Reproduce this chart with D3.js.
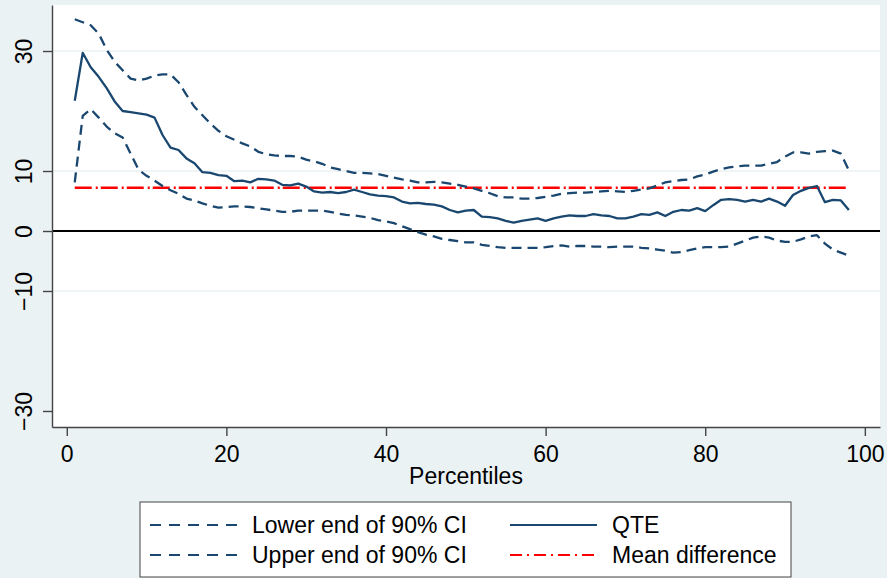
<!DOCTYPE html>
<html>
<head>
<meta charset="utf-8">
<script src="https://cdn.jsdelivr.net/npm/d3@7"></script>
<style>
  body { margin: 0; background: #eaf2f3; }
  svg text { font-family: "Liberation Sans", Arial, sans-serif; fill: #000; }
</style>
</head>
<body>
<div id="chart"></div>
<script>
//---->DATA<-----//
const percentiles = [1, 2, 3, 4, 5, 6, 7, 8, 9, 10, 11, 12, 13, 14, 15, 16, 17, 18, 19, 20,
    21, 22, 23, 24, 25, 26, 27, 28, 29, 30, 31, 32, 33, 34, 35, 36, 37, 38, 39, 40,
    41, 42, 43, 44, 45, 46, 47, 48, 49, 50, 51, 52, 53, 54, 55, 56, 57, 58, 59, 60,
    61, 62, 63, 64, 65, 66, 67, 68, 69, 70, 71, 72, 73, 74, 75, 76, 77, 78, 79, 80,
    81, 82, 83, 84, 85, 86, 87, 88, 89, 90, 91, 92, 93, 94, 95, 96, 97, 98];

const qte = [21.7, 29.7, 27.3, 25.7, 23.8, 21.6, 20.0, 19.8, 19.6, 19.4,
    18.9, 16.0, 13.9, 13.5, 12.1, 11.3, 9.8, 9.7, 9.3, 9.2,
    8.3, 8.4, 8.1, 8.7, 8.6, 8.4, 7.7, 7.6, 7.9, 7.4,
    6.6, 6.4, 6.5, 6.3, 6.5, 6.9, 6.5, 6.1, 5.9, 5.8,
    5.6, 4.9, 4.6, 4.7, 4.5, 4.4, 4.1, 3.5, 3.1, 3.4,
    3.5, 2.4, 2.3, 2.1, 1.7, 1.4, 1.7, 1.9, 2.1, 1.7,
    2.1, 2.4, 2.6, 2.5, 2.5, 2.8, 2.6, 2.5, 2.1, 2.1,
    2.4, 2.8, 2.7, 3.1, 2.5, 3.2, 3.5, 3.4, 3.8, 3.3,
    4.3, 5.2, 5.3, 5.2, 4.9, 5.2, 4.9, 5.4, 4.9, 4.2,
    6.0, 6.7, 7.2, 7.5, 4.8, 5.2, 5.1, 3.5];

const lowerCI = [8.1, 19.2, 20.3, 18.9, 17.4, 16.3, 15.6, 12.9, 10.2, 9.2,
    8.4, 7.5, 6.8, 6.2, 5.4, 5.1, 4.6, 4.2, 3.9, 4.0,
    4.1, 4.1, 4.0, 3.8, 3.6, 3.4, 3.2, 3.2, 3.4, 3.4,
    3.4, 3.4, 3.2, 2.9, 2.7, 2.6, 2.4, 2.2, 1.8, 1.6,
    1.3, 0.8, 0.3, -0.2, -0.6, -0.9, -1.3, -1.5, -1.7, -1.9,
    -1.9, -2.3, -2.5, -2.7, -2.8, -2.8, -2.8, -2.8, -2.8, -2.7,
    -2.5, -2.4, -2.6, -2.5, -2.5, -2.6, -2.6, -2.7, -2.6, -2.6,
    -2.6, -2.8, -2.9, -3.1, -3.3, -3.6, -3.5, -3.2, -2.9, -2.7,
    -2.7, -2.7, -2.6, -2.1, -1.6, -1.1, -0.9, -1.1, -1.6, -1.8,
    -1.8, -1.4, -0.9, -0.7, -2.1, -3.1, -3.6, -4.1];

const upperCI = [35.3, 34.8, 34.3, 32.9, 30.2, 28.2, 26.8, 25.4, 25.1, 25.4,
    25.9, 26.1, 26.1, 24.8, 22.7, 20.7, 19.3, 17.9, 16.7, 15.8,
    15.2, 14.6, 14.1, 13.2, 12.8, 12.6, 12.5, 12.5, 12.4, 11.9,
    11.6, 11.2, 10.6, 10.3, 10.0, 9.7, 9.7, 9.6, 9.5, 9.2,
    8.9, 8.6, 8.4, 8.1, 8.1, 8.2, 8.1, 7.9, 7.7, 7.4,
    7.1, 6.7, 6.3, 5.8, 5.6, 5.6, 5.4, 5.4, 5.5, 5.7,
    5.9, 6.2, 6.3, 6.4, 6.4, 6.5, 6.6, 6.7, 6.6, 6.5,
    6.7, 6.9, 7.1, 7.6, 8.1, 8.3, 8.5, 8.6, 9.1, 9.4,
    9.9, 10.3, 10.6, 10.8, 10.9, 10.9, 10.9, 11.2, 11.5, 12.4,
    13.1, 13.1, 12.9, 13.2, 13.3, 13.4, 12.9, 10.1];

const meanDiff = 7.2;

const xTicks = [0, 20, 40, 60, 80, 100];
const yTicks = [-30, -10, 0, 10, 30];
const yGrid = [-10, 10, 30];
const xTitle = 'Percentiles';

const legendRows = [
    ['Lower end of 90% CI', 'QTE'],
    ['Upper end of 90% CI', 'Mean difference']
];

//---->CHART<-----//
const outerW = 887,
    outerH = 578;

const plot = { left: 52, top: 5, right: 880, bottom: 427 };

const navy = '#1a476f',
    axisColor = '#444',
    gridColor = '#eaf2f3',
    fontSize = 23,
    dashed = '10,6';

const svg = d3.select('#chart').append('svg')
    .attr('width', outerW)
    .attr('height', outerH);

svg.append('rect')
    .attr('width', outerW)
    .attr('height', outerH)
    .style('fill', '#eaf2f3');

svg.append('rect')
    .attr('x', plot.left)
    .attr('y', plot.top)
    .attr('width', plot.right - plot.left)
    .attr('height', plot.bottom - plot.top)
    .style('fill', '#fff');

const x = d3.scaleLinear().domain([-1.85, 101.9]).range([plot.left, plot.right]);
const y = d3.scaleLinear().domain([-32.67, 37.67]).range([plot.bottom, plot.top]);

// Gridlines
svg.append('g').selectAll('line')
    .data(yGrid)
    .enter().append('line')
    .attr('x1', plot.left)
    .attr('x2', plot.right)
    .attr('y1', d => y(d))
    .attr('y2', d => y(d))
    .style('stroke', gridColor)
    .style('stroke-width', 1.6);

// Zero line
svg.append('line')
    .attr('x1', plot.left)
    .attr('x2', plot.right)
    .attr('y1', y(0))
    .attr('y2', y(0))
    .style('stroke', '#000')
    .style('stroke-width', 2.2);

// Mean difference
svg.append('line')
    .attr('x1', x(percentiles[0]))
    .attr('x2', x(percentiles[percentiles.length - 1]))
    .attr('y1', y(meanDiff))
    .attr('y2', y(meanDiff))
    .style('stroke', '#ff0000')
    .style('stroke-width', 2.4)
    .style('stroke-dasharray', '17,4,2,3');

// Series lines
const line = d3.line()
    .x((d, i) => x(percentiles[i]))
    .y(d => y(d));

const series = [
    { values: lowerCI, dash: dashed },
    { values: upperCI, dash: dashed },
    { values: qte, dash: null }
];

svg.append('g').selectAll('path')
    .data(series)
    .enter().append('path')
    .attr('d', d => line(d.values))
    .style('fill', 'none')
    .style('stroke', navy)
    .style('stroke-width', 2.3)
    .style('stroke-linejoin', 'round')
    .style('stroke-dasharray', d => d.dash);

// Add axes
const yAxis = svg.append('g')
    .attr('transform', 'translate(' + plot.left + ',0)')
    .call(d3.axisLeft(y)
        .tickValues(yTicks)
        .tickSize(9)
        .tickSizeOuter(0)
    );

yAxis.selectAll('text')
    .attr('x', null)
    .attr('dy', null)
    .attr('text-anchor', 'middle')
    .attr('transform', 'translate(-20,0) rotate(-90)');

const xAxis = svg.append('g')
    .attr('transform', 'translate(0,' + plot.bottom + ')')
    .call(d3.axisBottom(x)
        .tickValues(xTicks)
        .tickSize(9)
        .tickSizeOuter(0)
        .tickPadding(10)
    );

[xAxis, yAxis].forEach(a => {
    a.select('.domain').style('stroke', axisColor).style('stroke-width', 1.4);
    a.selectAll('.tick line').style('stroke', axisColor).style('stroke-width', 1.4);
    a.selectAll('text')
        .style('font-size', fontSize + 'px')
        .style('font-family', '"Liberation Sans", Arial, sans-serif')
        .style('fill', '#000');
});

svg.append('text')
    .attr('x', (plot.left + plot.right) / 2)
    .attr('y', 484)
    .attr('text-anchor', 'middle')
    .style('font-size', fontSize + 'px')
    .text(xTitle);

// Legend
const legend = svg.append('g');

legend.append('rect')
    .attr('x', 140)
    .attr('y', 502)
    .attr('width', 651)
    .attr('height', 75)
    .style('fill', '#fff')
    .style('stroke', axisColor)
    .style('stroke-width', 1);

const legendKeys = [
    [{ color: navy, dash: '11,8' }, { color: navy, dash: null }],
    [{ color: navy, dash: '11,8' }, { color: '#ff0000', dash: '12,5,2,5' }]
];
const colX = [150, 510],
    rowY = [525, 555];

legendRows.forEach((row, r) => {
    row.forEach((label, c) => {
        const k = legendKeys[r][c];
        legend.append('line')
            .attr('x1', colX[c])
            .attr('x2', colX[c] + 87)
            .attr('y1', rowY[r])
            .attr('y2', rowY[r])
            .style('stroke', k.color)
            .style('stroke-width', 2.2)
            .style('stroke-dasharray', k.dash);
        legend.append('text')
            .attr('x', colX[c] + 102)
            .attr('y', rowY[r] + 8)
            .style('font-size', fontSize + 'px')
            .text(label);
    });
});
</script>
</body>
</html>
